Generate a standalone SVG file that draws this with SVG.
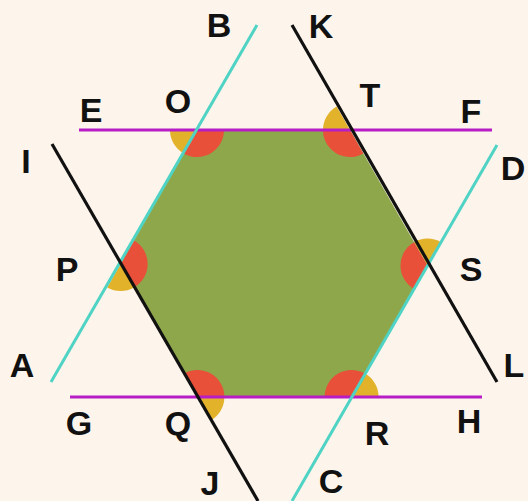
<svg xmlns="http://www.w3.org/2000/svg" width="528" height="501" viewBox="0 0 528 501">
<style>
.lbl{font-family:"Liberation Sans",Arial,sans-serif;font-weight:bold;font-size:34px;fill:#111;text-anchor:middle}
.cy{stroke:#4fd3c4;stroke-width:3;fill:none}
.bk{stroke:#111;stroke-width:3.2;fill:none}
.mg{stroke:#b81cc4;stroke-width:3.2;fill:none}
.red{fill:#e8503a}
.yel{fill:#e2b22a}
</style>
<rect width="528" height="501" fill="#fdf5ec"/>
<g id="hexagon">
<polygon points="197,130 350,130 427.5,265.6 351.6,397 197.4,397 120.6,264" fill="#8ea74b"/>
</g>
<g id="angles">
<!-- O -->
<path class="yel" d="M197,130 L183.6,153.5 A27,27 0 0 1 170,130 Z"/>
<path class="red" d="M197,130 L224,130 A27,27 0 0 1 183.6,153.5 Z"/>
<!-- T -->
<path class="yel" d="M350,130 L323,130 A27,27 0 0 1 336.6,106.5 Z"/>
<path class="red" d="M350,130 L363.4,153.5 A27,27 0 0 1 323,130 Z"/>
<!-- P -->
<path class="yel" d="M120.6,264 L134.1,287.4 A27,27 0 0 1 107.2,287.4 Z"/>
<path class="red" d="M120.6,264 L134,240.5 A27,27 0 0 1 134.1,287.4 Z"/>
<!-- S -->
<path class="yel" d="M427.5,265.6 L414,242.2 A27,27 0 0 1 441,242.2 Z"/>
<path class="red" d="M427.5,265.6 L414,289 A27,27 0 0 1 414,242.2 Z"/>
<!-- Q -->
<path class="yel" d="M197.4,397 L224.4,397 A27,27 0 0 1 210.9,420.4 Z"/>
<path class="red" d="M197.4,397 L183.9,373.6 A27,27 0 0 1 224.4,397 Z"/>
<!-- R -->
<path class="yel" d="M351.6,397 L365.1,373.6 A27,27 0 0 1 378.6,397 Z"/>
<path class="red" d="M351.6,397 L324.6,397 A27,27 0 0 1 365.1,373.6 Z"/>
</g>
<g id="connectors">
<line id="EF" class="mg" x1="79" y1="130" x2="492" y2="130"/>
<line id="GH" class="mg" x1="70" y1="397" x2="482" y2="397"/>
<line id="BA" class="cy" x1="257" y1="25" x2="51" y2="382"/>
<line id="DC" class="cy" x1="497" y1="145" x2="292" y2="501"/>
<line id="IJ" class="bk" x1="52" y1="144" x2="258" y2="501"/>
<line id="KL" class="bk" x1="292" y1="25" x2="497" y2="382"/>
</g>
<g id="labels">
<text class="lbl" x="219" y="37">B</text>
<text class="lbl" x="321" y="38">K</text>
<text class="lbl" x="91" y="122">E</text>
<text class="lbl" x="178" y="113">O</text>
<text class="lbl" x="370" y="107">T</text>
<text class="lbl" x="471" y="123">F</text>
<text class="lbl" x="26" y="173">I</text>
<text class="lbl" x="513" y="180">D</text>
<text class="lbl" x="67" y="281">P</text>
<text class="lbl" x="471" y="281">S</text>
<text class="lbl" x="22" y="377">A</text>
<text class="lbl" x="514" y="377">L</text>
<text class="lbl" x="79" y="435">G</text>
<text class="lbl" x="178" y="435">Q</text>
<text class="lbl" x="377" y="445">R</text>
<text class="lbl" x="469" y="433">H</text>
<text class="lbl" x="210" y="495">J</text>
<text class="lbl" x="331" y="493">C</text>
</g>
</svg>
